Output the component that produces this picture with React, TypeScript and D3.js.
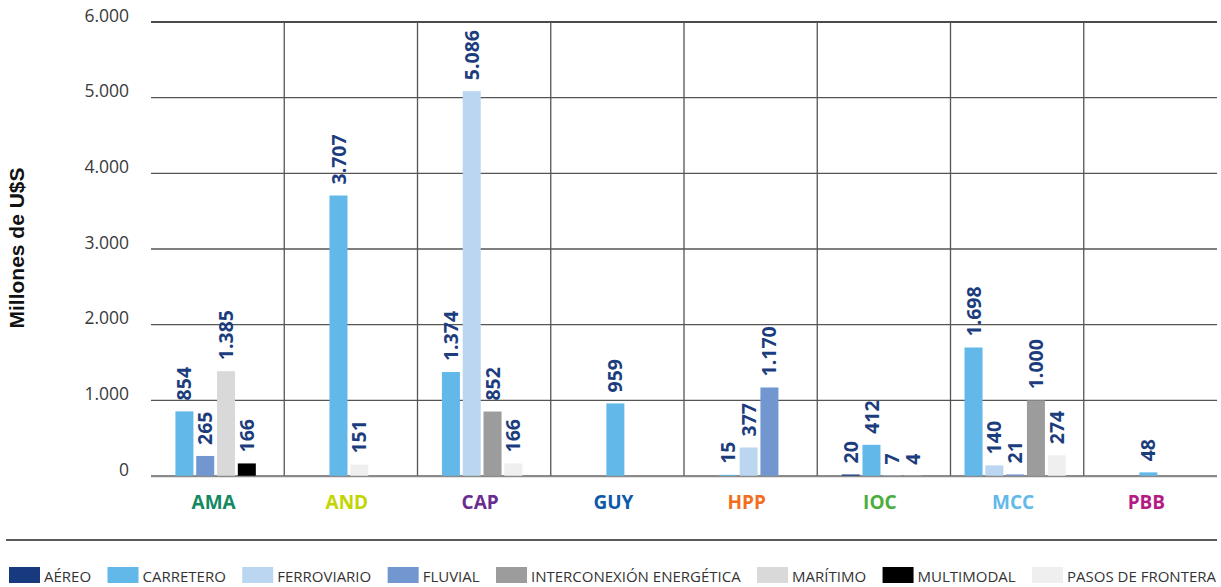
import React, { useEffect, useRef } from "react";
import * as d3 from "d3";

const categories = ["AMA", "AND", "CAP", "GUY", "HPP", "IOC", "MCC", "PBB"];
const categoryColors = ["#12895f", "#c3d500", "#6a2c8e", "#0c5aa6", "#f26f21", "#4bae3c", "#62b9e8", "#b51c83"];
const seriesNames = ["AÉREO", "CARRETERO", "FERROVIARIO", "FLUVIAL", "INTERCONEXIÓN ENERGÉTICA", "MARÍTIMO", "MULTIMODAL", "PASOS DE FRONTERA"];
const seriesColors = ["#163a7d", "#62b8e9", "#bbd6f1", "#7297d0", "#9c9c9c", "#d9d9d9", "#000000", "#efefef"];
// values per series, aligned with categories (0 = no bar)
const aereo = [0, 0, 0, 0, 0, 20, 0, 0];
const carretero = [854, 3707, 1374, 959, 15, 412, 1698, 48];
const ferroviario = [0, 0, 5086, 0, 377, 7, 140, 0];
const fluvial = [265, 0, 0, 0, 1170, 0, 21, 0];
const interconexion = [0, 0, 852, 0, 0, 0, 1000, 0];
const maritimo = [1385, 0, 0, 0, 0, 0, 0, 0];
const multimodal = [166, 0, 0, 0, 0, 0, 0, 0];
const pasos = [0, 151, 166, 0, 0, 4, 274, 0];
const yTicks = [0, 1000, 2000, 3000, 4000, 5000, 6000];
const yTitle = "Millones de U$S";

const seriesValues = [aereo, carretero, ferroviario, fluvial, interconexion, maritimo, multimodal, pasos];

const fmt = (v: number) => d3.format(",")(v).replace(/,/g, ".");

export default function App() {
  const ref = useRef<SVGSVGElement>(null);
  useEffect(() => {
    const svg = d3.select(ref.current);
    svg.selectAll("*").remove();
    const left = 151, right = 1217, top = 22, bottom = 476;
    const x = d3.scaleBand().domain(categories).range([left, right]);
    const y = d3.scaleLinear().domain([0, 6000]).range([bottom, top]);
    const font = "'Open Sans', sans-serif";

    // horizontal grid
    svg.append("g").selectAll("line").data(yTicks).join("line")
      .attr("x1", left).attr("x2", right)
      .attr("y1", (d) => y(d)).attr("y2", (d) => y(d))
      .attr("stroke", (d) => (d === 0 ? "#8a8a8a" : d === 6000 ? "#111" : "#555"))
      .attr("stroke-width", (d) => (d === 0 ? 2 : 1.3));
    // vertical separators
    svg.append("g").selectAll("line").data(categories.slice(1)).join("line")
      .attr("x1", (d) => x(d)!).attr("x2", (d) => x(d)!)
      .attr("y1", top).attr("y2", bottom)
      .attr("stroke", "#555").attr("stroke-width", 1.3);

    // y tick labels
    svg.append("g").selectAll("text").data(yTicks).join("text")
      .attr("x", 129).attr("y", (d) => y(d) - 0.5)
      .attr("text-anchor", "end")
      .attr("font-family", font).attr("font-size", 17.5).attr("fill", "#3a3a3a")
      .text((d) => fmt(d));

    // y title
    svg.append("text")
      .attr("transform", `translate(24,248) rotate(-90)`)
      .attr("text-anchor", "middle")
      .attr("font-family", "'Liberation Sans', Arial, sans-serif").attr("font-weight", 700)
      .attr("font-size", 21).attr("fill", "#111")
      .text(yTitle);

    // bars
    const barW = 18, pitch = 20.8;
    const bars: { cat: string; s: number; v: number; cx: number }[] = [];
    categories.forEach((c, ci) => {
      const present = seriesValues.map((arr, si) => ({ si, v: arr[ci] })).filter((o) => o.v > 0);
      const n = present.length;
      const center = x(c)! + x.bandwidth() / 2 - 2;
      present.forEach((o, k) => {
        bars.push({ cat: c, s: o.si, v: o.v, cx: center + (k - (n - 1) / 2) * pitch });
      });
    });
    svg.append("g").selectAll("rect").data(bars).join("rect")
      .attr("x", (d) => d.cx - barW / 2).attr("width", barW)
      .attr("y", (d) => y(d.v)).attr("height", (d) => bottom - y(d.v))
      .attr("fill", (d) => seriesColors[d.s]);
    // redraw zero line over bars
    svg.append("line").attr("x1", left).attr("x2", right).attr("y1", y(0) + 0.5).attr("y2", y(0) + 0.5)
      .attr("stroke", "#8a8a8a").attr("stroke-width", 1.5);

    // value labels
    svg.append("g").selectAll("text").data(bars).join("text")
      .attr("transform", (d) => `translate(${d.cx},${y(d.v) - 11}) rotate(-90)`)
      .attr("dy", "0.36em")
      .attr("font-family", font).attr("font-weight", 700).attr("font-size", 19.5)
      .attr("fill", "#1b3c7d")
      .text((d) => fmt(d.v));

    // category labels
    svg.append("g").selectAll("text").data(categories).join("text")
      .attr("x", (d) => x(d)! + x.bandwidth() / 2 - 4).attr("y", 509)
      .attr("text-anchor", "middle")
      .attr("font-family", font).attr("font-weight", 700).attr("font-size", 19)
      .attr("fill", (_, i) => categoryColors[i])
      .text((d) => d);

    // separator
    svg.append("line").attr("x1", 6).attr("x2", right).attr("y1", 540).attr("y2", 540)
      .attr("stroke", "#5a5a5a").attr("stroke-width", 2);

    // legend (justified between 9 and 1216)
    const lg = svg.append("g");
    const items = seriesNames.map((name, i) => {
      const g = lg.append("g");
      g.append("rect").attr("x", 0).attr("y", 567).attr("width", 31).attr("height", 16)
        .attr("fill", seriesColors[i]);
      const t = g.append("text").attr("x", 35).attr("y", 582)
        .attr("font-family", font).attr("font-size", 15).attr("fill", "#333")
        .text(name);
      const w = 35 + (t.node() as SVGTextElement).getComputedTextLength();
      return { g, w };
    });
    const total = d3.sum(items, (d) => d.w);
    const gap = (1216 - 9 - total) / (items.length - 1);
    let cx = 9;
    items.forEach((it) => {
      it.g.attr("transform", `translate(${cx},0)`);
      cx += it.w + gap;
    });
  }, []);
  return (
    <svg ref={ref} width={1221} height={587} style={{ position: "absolute", left: 0, top: 0, background: "#fff" }} />
  );
}
